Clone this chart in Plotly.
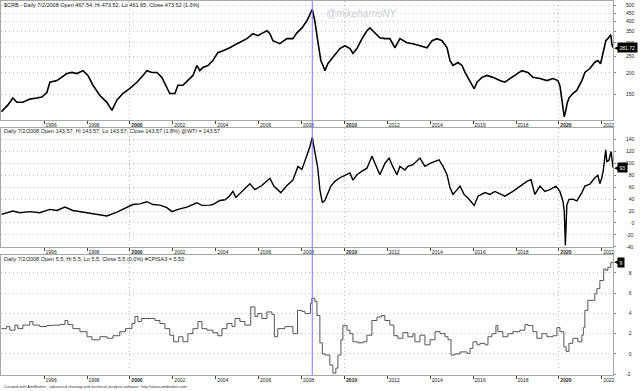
import math
import plotly.graph_objects as go

# ---------------- data ----------------
crb_dates = [
    "1994-01-05", "1994-03-01", "1994-04-22", "1994-07-18", "1994-09-24", "1995-01-04",
    "1995-05-04", "1995-08-29", "1995-11-24", "1996-02-17", "1996-04-08", "1996-08-07",
    "1996-10-31", "1997-01-23", "1997-04-20", "1997-07-13", "1997-10-24", "1998-01-16",
    "1998-04-12", "1998-08-08", "1998-12-06", "1999-03-01", "1999-05-23", "1999-09-02",
    "2000-01-01", "2000-04-30", "2000-08-10", "2000-10-16", "2001-01-10", "2001-04-05",
    "2001-06-29", "2001-09-21", "2001-11-10", "2002-02-06", "2002-03-29", "2002-06-22",
    "2002-09-14", "2002-12-09", "2003-02-14", "2003-04-06", "2003-05-27", "2003-08-21",
    "2003-11-13", "2004-02-06", "2004-05-04", "2004-08-29", "2004-12-29", "2005-03-22",
    "2005-06-15", "2005-09-25", "2005-12-19", "2006-03-15", "2006-05-22", "2006-07-12",
    "2006-09-01", "2006-12-28", "2007-04-28", "2007-08-08", "2007-10-15", "2008-01-08",
    "2008-04-02", "2008-07-02", "2008-08-15", "2008-10-04", "2008-11-25", "2009-01-01",
    "2009-02-03", "2009-03-26", "2009-06-18", "2009-10-16", "2010-01-09", "2010-04-05",
    "2010-05-26", "2010-08-01", "2010-10-27", "2011-01-19", "2011-03-11", "2011-06-03",
    "2011-08-27", "2011-11-21", "2012-02-14", "2012-05-09", "2012-08-03", "2012-11-30",
    "2013-03-12", "2013-07-10", "2013-11-07", "2014-01-31", "2014-04-27", "2014-07-21",
    "2014-10-14", "2014-12-04", "2015-01-24", "2015-04-19", "2015-06-26", "2015-08-16",
    "2015-11-09", "2016-01-20", "2016-03-07", "2016-05-31", "2016-08-24", "2016-12-03",
    "2017-04-01", "2017-06-25", "2017-09-18", "2018-01-16", "2018-04-11", "2018-07-22",
    "2018-10-15", "2019-02-12", "2019-06-11", "2019-09-21", "2019-12-15", "2020-01-18",
    "2020-02-21", "2020-04-01", "2020-04-28", "2020-05-20", "2020-06-20", "2020-08-25",
    "2020-11-02", "2021-01-26", "2021-03-18", "2021-06-11", "2021-09-04", "2021-10-25",
    "2021-12-10", "2022-02-04", "2022-03-10", "2022-04-13", "2022-06-03", "2022-06-20",
    "2022-07-08",
]
crb_values = [
    118, 124, 129, 142, 134, 134,
    140, 142, 144, 153, 176, 180,
    188, 198, 201, 198, 206, 193,
    169, 147, 134, 120, 138, 151,
    162, 176, 193, 206, 201, 201,
    188, 162, 151, 151, 169, 169,
    180, 193, 221, 206, 215, 221,
    236, 263, 270, 281, 297, 309,
    318, 340, 331, 344, 354, 340,
    309, 297, 318, 318, 344, 368,
    405, 473.52, 405, 309, 236, 221,
    206, 227, 246, 278, 289, 278,
    260, 278, 318, 354, 368, 344,
    322, 318, 318, 281, 318, 301,
    297, 289, 281, 309, 318, 309,
    281, 236, 221, 230, 221, 201,
    180, 161, 176, 188, 193, 188,
    180, 176, 185, 198, 206, 201,
    188, 185, 180, 185, 180, 168,
    140, 110, 120, 132, 142, 151,
    158, 180, 201, 212, 231, 236,
    226, 270, 309, 318, 335, 297,
    281.72,
]

wti_dates = [
    "1994-01-05", "1994-04-01", "1994-07-18", "1994-11-14", "1995-05-04", "1995-10-19",
    "1996-04-08", "1996-08-07", "1996-12-21", "1997-05-05", "1997-10-24", "1998-03-25",
    "1998-08-08", "1998-12-06", "1999-05-23", "1999-11-10", "2000-02-21", "2000-06-20",
    "2000-10-16", "2001-01-27", "2001-05-26", "2001-09-21", "2001-12-16", "2002-03-29",
    "2002-08-29", "2003-02-14", "2003-05-11", "2003-09-24", "2003-11-13", "2004-03-13",
    "2004-06-08", "2004-08-20", "2004-10-20", "2004-12-10", "2005-03-22", "2005-08-05",
    "2005-10-30", "2006-02-25", "2006-07-12", "2006-09-17", "2007-01-13", "2007-04-28",
    "2007-08-08", "2007-11-01", "2008-01-08", "2008-04-02", "2008-05-23", "2008-07-02",
    "2008-08-15", "2008-10-04", "2008-11-09", "2008-12-20", "2009-02-03", "2009-03-08",
    "2009-05-15", "2009-07-23", "2009-10-16", "2010-01-09", "2010-04-05", "2010-05-26",
    "2010-08-01", "2010-10-27", "2011-01-19", "2011-04-14", "2011-06-03", "2011-08-27",
    "2011-11-21", "2012-02-01", "2012-03-19", "2012-06-12", "2012-08-03", "2012-10-27",
    "2012-12-17", "2013-03-12", "2013-07-10", "2013-10-03", "2013-12-28", "2014-03-24",
    "2014-05-31", "2014-08-07", "2014-10-14", "2014-12-04", "2015-01-24", "2015-04-02",
    "2015-05-23", "2015-07-30", "2015-10-06", "2016-01-20", "2016-03-24", "2016-07-21",
    "2016-10-13", "2017-01-06", "2017-05-05", "2017-06-25", "2017-11-08", "2018-03-08",
    "2018-07-05", "2018-09-11", "2018-11-18", "2019-02-12", "2019-05-08", "2019-08-01",
    "2019-11-11", "2020-01-18", "2020-03-09", "2020-04-01", "2020-04-20", "2020-05-15",
    "2020-06-20", "2020-08-25", "2020-11-02", "2021-01-26", "2021-03-18", "2021-06-11",
    "2021-09-04", "2021-10-25", "2021-11-28", "2022-01-01", "2022-01-25", "2022-03-08",
    "2022-03-27", "2022-04-30", "2022-06-08", "2022-06-25", "2022-07-08",
]
wti_values = [
    14.5, 17.3, 20, 17.3, 19, 17.3,
    22.8, 21, 26.7, 21, 18.3, 15.7,
    14.5, 11.7, 18.3, 25.7, 31, 32,
    35.7, 31, 30, 25.7, 19, 22.8,
    26.7, 34, 29.5, 30, 31, 37.8,
    39, 45, 53, 43, 53, 66,
    56, 63, 75, 62, 51, 63,
    72, 95, 90, 113, 128, 143.57,
    120, 92, 56, 34, 38, 45,
    62, 70, 76, 80, 84, 72,
    81, 87, 92, 112, 101, 81,
    100, 109, 98, 81, 95, 89,
    95, 98, 109, 95, 100, 103,
    106, 95, 81, 59, 48, 56,
    62, 48, 42, 29.5, 45, 51,
    48, 53, 48, 45, 53, 62,
    70, 73, 48, 62, 53, 56,
    62, 53, 37, 20, -37.63, 30,
    39.5, 40, 37, 51, 62, 65,
    76, 80, 66, 76, 88, 123,
    103, 105, 120, 106, 93,
]

cpi_dates = [
    "1994-01-05", "1994-04-01", "1994-05-28", "1994-08-22", "1994-10-12", "1995-01-04",
    "1995-05-04", "1995-06-25", "1995-10-19", "1996-02-17", "1996-05-30", "1996-09-28",
    "1996-12-21", "1997-02-09", "1997-05-05", "1997-09-02", "1998-01-01", "1998-03-25",
    "1998-08-08", "1998-12-06", "1999-03-18", "1999-07-13", "1999-10-19", "2000-02-04",
    "2000-03-26", "2000-05-17", "2000-07-15", "2000-12-06", "2001-03-03", "2001-05-26",
    "2001-08-19", "2001-11-10", "2002-01-15", "2002-04-10", "2002-06-22", "2002-09-14",
    "2002-12-09", "2003-03-04", "2003-05-11", "2003-08-04", "2003-11-13", "2004-02-06",
    "2004-04-17", "2004-07-09", "2004-10-04", "2004-11-24", "2005-02-17", "2005-05-12",
    "2005-08-20", "2005-10-30", "2005-12-19", "2006-02-25", "2006-05-22", "2006-08-14",
    "2006-09-25", "2006-11-23", "2007-03-26", "2007-06-18", "2007-08-08", "2007-10-25",
    "2008-01-08", "2008-02-28", "2008-06-01", "2008-06-25", "2008-08-15", "2008-09-20",
    "2008-11-09", "2008-12-20", "2009-02-03", "2009-04-27", "2009-06-18", "2009-08-08",
    "2009-09-12", "2009-11-02", "2009-12-06", "2010-02-13", "2010-04-05", "2010-05-26",
    "2010-08-18", "2010-11-13", "2011-01-19", "2011-04-14", "2011-07-09", "2011-09-22",
    "2011-11-21", "2012-02-14", "2012-04-22", "2012-06-29", "2012-09-23", "2012-12-17",
    "2013-03-12", "2013-04-15", "2013-07-10", "2013-10-03", "2013-12-28", "2014-03-24",
    "2014-06-17", "2014-09-10", "2014-10-31", "2014-12-21", "2015-02-27", "2015-05-23",
    "2015-09-19", "2015-11-09", "2015-12-30", "2016-03-07", "2016-04-27", "2016-07-21",
    "2016-09-10", "2016-11-16", "2017-01-23", "2017-02-26", "2017-05-22", "2017-08-15",
    "2017-11-08", "2018-03-08", "2018-06-01", "2018-07-22", "2018-10-15", "2018-12-22",
    "2019-03-18", "2019-06-11", "2019-09-21", "2019-11-28", "2020-01-18", "2020-03-26",
    "2020-05-01", "2020-06-20", "2020-08-25", "2020-11-19", "2021-01-26", "2021-02-20",
    "2021-03-18", "2021-05-08", "2021-08-01", "2021-09-04", "2021-10-08", "2021-11-28",
    "2022-02-01", "2022-03-10", "2022-04-13", "2022-06-03", "2022-07-08",
]
cpi_values = [
    2.5, 2.7, 2.35, 2.85, 2.5, 2.85,
    3.2, 2.85, 2.7, 2.8, 2.85, 2.9,
    3.3, 2.9, 2.5, 2.2, 1.7, 1.4,
    1.7, 1.55, 1.8, 2.2, 2.5, 3.0,
    3.7, 3.2, 3.5, 3.5, 3.3, 3.0,
    2.5, 1.85, 1.2, 1.7, 1.2, 2.0,
    2.5, 3.2, 2.5, 2.35, 2.1, 1.8,
    2.5, 3.0, 2.7, 3.5, 3.2, 2.85,
    4.65, 3.7, 4.0, 3.5, 4.15, 3.9,
    1.7, 2.5, 2.7, 2.7, 2.0, 4.3,
    4.2, 4.0, 5.0, 5.5, 5.2, 3.8,
    1.1, 0.0, -0.1, -1.1, -1.9, -1.4,
    -0.1, 1.4, 2.8, 2.35, 2.0, 1.2,
    1.1, 1.2, 1.85, 3.3, 3.65, 3.8,
    3.3, 2.85, 1.8, 1.55, 2.1, 1.7,
    2.0, 1.2, 1.85, 0.9, 1.4, 2.2,
    2.0, 1.7, 1.4, -0.1, 0.0, 0.2,
    0.05, 0.55, 1.2, 0.9, 1.05, 0.9,
    1.7, 2.0, 2.8, 2.2, 1.7, 2.0,
    2.2, 2.35, 2.9, 2.8, 2.2, 1.55,
    2.0, 1.7, 1.8, 2.6, 2.2, 0.7,
    0.25, 1.05, 1.55, 1.2, 1.85, 2.6,
    4.3, 5.3, 5.3, 5.95, 6.45, 7.25,
    8.4, 8.25, 8.55, 9.05, 9.05,
]

year_tick_dates = ["1996-01-01", "1998-01-01", "2000-01-01", "2002-01-01", "2004-01-01",
                   "2006-01-01", "2008-01-01", "2010-01-01", "2012-01-01", "2014-01-01",
                   "2016-01-01", "2018-01-01", "2020-01-01", "2022-01-01"]
year_tick_labels = ["1996", "1998", "<b>2000</b>", "2002", "2004", "2006", "2008",
                    "<b>2010</b>", "2012", "2014", "2016", "2018", "<b>2020</b>", "2022"]
decade_dates = ["2000-01-01", "2010-01-01", "2020-01-01"]
x_range = ["1993-12-28", "2022-07-10"]
marker_date = "2008-07-02"

crb_ticks = [150, 200, 250, 300, 350, 400, 450, 500]
crb_tick_labels = ["150", "200", "250", "300", "350", "400", "450", "500"]
wti_ticks = [140, 120, 100, 80, 60, 40, 20, 0, -20, -40]
wti_tick_labels = ["140", "120", "100", "\u200780", "\u200760", "\u200740", "\u200720",
                   "\u2007\u20070", "-20", "-40"]
cpi_ticks = [8, 6, 4, 2, 0, -2]
cpi_tick_labels = ["\u20078", "\u20076", "\u20074", "\u20072", "\u20070", "-2"]

crb_title = "$CRB - Daily 7/2/2008 Open 467.54, Hi 473.52, Lo 461.65, Close 473.52 (1.3%)"
wti_title = "Daily 7/2/2008 Open 143.57, Hi 143.57, Lo 143.57, Close 143.57 (1.8%) @WTI = 143.57"
cpi_title = "Daily 7/2/2008 Open 5.5, Hi 5.5, Lo 5.5, Close 5.5 (0.0%) #CPISA3 = 5.50"
crb_badge = "281.72"
wti_badge = "93"
cpi_badge = "9"

# ---------------- layout geometry ----------------
W, H = 640, 391
FONT = "Liberation Sans, Arial, sans-serif"


def pf(ypx):
    return 1 - ypx / H


dom1 = [pf(120), pf(0)]
dom2 = [pf(248), pf(128)]
dom3 = [pf(377), pf(256)]

fig = go.Figure()
fig.add_trace(go.Scatter(x=crb_dates, y=crb_values, mode="lines", xaxis="x", yaxis="y",
                         line=dict(color="#000000", width=1.6), showlegend=False))
fig.add_trace(go.Scatter(x=wti_dates, y=wti_values, mode="lines", xaxis="x2", yaxis="y2",
                         line=dict(color="#000000", width=1.4), showlegend=False))
fig.add_trace(go.Scatter(x=cpi_dates, y=cpi_values, mode="lines", xaxis="x3", yaxis="y3",
                         line=dict(color="#555555", width=1, shape="hv"), showlegend=False))

BORDER = "#a8a8a8"
GRID = "#bdbdbd"
DOTS = "1px,3px"


def xaxis(anchor):
    return dict(
        type="date", range=x_range, anchor=anchor,
        tickmode="array", tickvals=year_tick_dates, ticktext=year_tick_labels,
        ticks="outside", ticklen=3, tickwidth=1, tickcolor="#444444",
        tickfont=dict(family=FONT, size=5, color="#222222"), ticklabelshift=7,
        ticklabelstandoff=-3,
        showline=True, linecolor=BORDER, linewidth=1, mirror=True,
        showgrid=False, zeroline=False,
        minor=dict(tickmode="array", tickvals=decade_dates, showgrid=True,
                   gridcolor=GRID, griddash=DOTS, gridwidth=1, ticks=""),
    )


def yaxis(anchor, domain, rng, tickvals, ticktext, typ="linear"):
    return dict(
        type=typ, range=rng, domain=domain, anchor=anchor, side="right",
        tickmode="array", tickvals=tickvals, ticktext=ticktext,
        ticks="outside", ticklen=2, tickcolor="#888888",
        tickfont=dict(family=FONT, size=5, color="#222222"), ticklabelstandoff=9,
        showline=True, linecolor=BORDER, linewidth=1, mirror=True,
        showgrid=True, gridcolor=GRID, griddash=DOTS, gridwidth=1, zeroline=False,
    )


fig.update_layout(
    width=W, height=H,
    margin=dict(l=1, r=27, t=0, b=0),
    paper_bgcolor="white", plot_bgcolor="white",
    xaxis=xaxis("y"), xaxis2=xaxis("y2"), xaxis3=xaxis("y3"),
    yaxis=yaxis("x", dom1, [math.log10(105.3), math.log10(530)], crb_ticks, crb_tick_labels, "log"),
    yaxis2=yaxis("x2", dom2, [-40.5, 159.5], wti_ticks, wti_tick_labels),
    yaxis3=yaxis("x3", dom3, [-2.09, 9.77], cpi_ticks, cpi_tick_labels),
    showlegend=False,
)

# vertical marker line at the selected bar
fig.add_shape(type="line", xref="x", yref="paper", x0=marker_date, x1=marker_date,
              y0=pf(377), y1=1, line=dict(color="#7878ff", width=1), layer="above")

anns = []
for txt, ypx in [(crb_title, 4), (wti_title, 131.5), (cpi_title, 259.5)]:
    anns.append(dict(text=txt, xref="paper", yref="paper", x=0, xshift=1, y=pf(ypx),
                     xanchor="left", yanchor="middle", showarrow=False,
                     font=dict(family=FONT, size=5.5, color="#222222")))
anns.append(dict(text="<i>@mikeharrisNY</i>", xref="paper", yref="paper",
                 x=(361 - 1) / 612, y=pf(13), xanchor="center", yanchor="middle",
                 showarrow=False, font=dict(family=FONT, size=10, color="#c9cdd6")))
anns.append(dict(text="Created with AmiBroker - advanced charting and technical analysis software. http://www.amibroker.com",
                 xref="paper", yref="paper", x=0, xshift=1, y=pf(388), xanchor="left",
                 yanchor="middle", showarrow=False, font=dict(family=FONT, size=4, color="#333333")))

badges = [
    (crb_badge, "y", math.log10(crb_values[-1])),
    (wti_badge, "y2", wti_values[-1]),
    (cpi_badge, "y3", cpi_values[-1]),
]
for txt, yref, yv in badges:
    anns.append(dict(text="◀", xref="paper", yref=yref, x=1, y=yv, xanchor="left",
                     yanchor="middle", xshift=-1, showarrow=False,
                     font=dict(family="DejaVu Sans", size=7, color="#000000")))
    anns.append(dict(text=txt, xref="paper", yref=yref, x=1, y=yv, xanchor="left",
                     yanchor="middle", xshift=4, showarrow=False, bgcolor="#000000",
                     borderpad=1.5, font=dict(family=FONT, size=5, color="#ffffff")))
fig.update_layout(annotations=anns)

fig.write_html("out.html", config={"displayModeBar": False},
               post_script="document.body.style.margin='0px';document.body.style.overflow='hidden';")
